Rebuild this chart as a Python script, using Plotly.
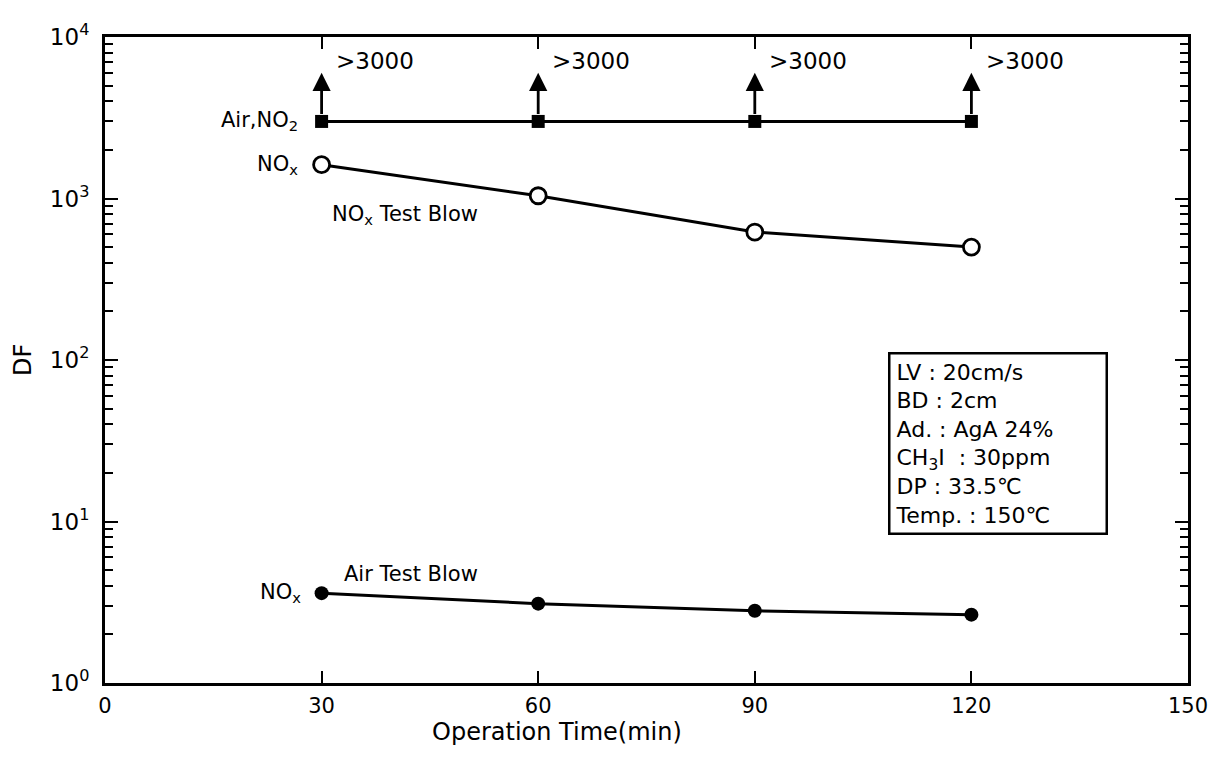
import math
import plotly.graph_objects as go

# ---- data ----
time_min = [30, 60, 90, 120]
df_air_no2 = [3000, 3000, 3000, 3000]          # lower bound (>3000)
df_nox_test_blow = [1620, 1040, 620, 500]
df_air_test_blow = [3.6, 3.1, 2.8, 2.65]
arrow_tip_df = [6000, 6000, 6000, 6000]
bound_labels = [">3000", ">3000", ">3000", ">3000"]

x_ticks = [0, 30, 60, 90, 120, 150]
y_ticks = [1, 10, 100, 1000, 10000]
y_tick_text = ["10<sup>0</sup>", "10<sup>1</sup>", "10<sup>2</sup>", "10<sup>3</sup>", "10<sup>4</sup>"]
y_minor = [m * d for d in [1, 10, 100, 1000] for m in range(2, 10)]

cond_lines = ["LV : 20cm/s", "BD : 2cm", "Ad. : AgA 24%", "CH<sub>3</sub>I  : 30ppm",
              "DP : 33.5℃", "Temp. : 150℃"]

FONT = "DejaVu Sans, Liberation Sans, Arial, sans-serif"
BLACK = "black"

fig = go.Figure()

fig.add_trace(go.Scatter(
    x=time_min, y=df_air_no2, mode="lines+markers",
    line=dict(color=BLACK, width=3),
    marker=dict(symbol="square", size=13, color=BLACK),
    showlegend=False, cliponaxis=False))

fig.add_trace(go.Scatter(
    x=time_min, y=df_nox_test_blow, mode="lines+markers",
    line=dict(color=BLACK, width=3),
    marker=dict(symbol="circle", size=16, color="white", line=dict(color=BLACK, width=2.8)),
    showlegend=False, cliponaxis=False))

fig.add_trace(go.Scatter(
    x=time_min, y=df_air_test_blow, mode="lines+markers",
    line=dict(color=BLACK, width=3),
    marker=dict(symbol="circle", size=14, color=BLACK),
    showlegend=False, cliponaxis=False))

annotations = []
for t, base, tip, lab in zip(time_min, df_air_no2, arrow_tip_df, bound_labels):
    annotations.append(dict(
        x=t, y=math.log10(tip), ax=t, ay=math.log10(base),
        xref="x", yref="y", axref="x", ayref="y",
        text="", showarrow=True, arrowhead=2, arrowsize=1.3, arrowwidth=2.8,
        arrowcolor=BLACK, standoff=0, startstandoff=6))
    annotations.append(dict(
        x=t + 1.7, y=3.85, xref="x", yref="y",
        text=lab, showarrow=False, xanchor="left", yanchor="middle",
        font=dict(family=FONT, size=23, color=BLACK)))

annotations += [
    dict(x=27.0, y=math.log10(df_air_no2[0]), xref="x", yref="y",
         text="Air,NO<sub>2</sub>", showarrow=False, xanchor="right", yanchor="middle",
         font=dict(family=FONT, size=21, color=BLACK)),
    dict(x=27.0, y=math.log10(df_nox_test_blow[0]), xref="x", yref="y",
         text="NO<sub>x</sub>", showarrow=False, xanchor="right", yanchor="middle",
         font=dict(family=FONT, size=21, color=BLACK)),
    dict(x=31.2, y=2.90, xref="x", yref="y",
         text="NO<sub>x</sub> Test Blow", showarrow=False, xanchor="left", yanchor="middle",
         font=dict(family=FONT, size=21, color=BLACK)),
    dict(x=32.8, y=0.678, xref="x", yref="y",
         text="Air Test Blow", showarrow=False, xanchor="left", yanchor="middle",
         font=dict(family=FONT, size=21, color=BLACK)),
    dict(x=27.4, y=math.log10(df_air_test_blow[0]), xref="x", yref="y",
         text="NO<sub>x</sub>", showarrow=False, xanchor="right", yanchor="middle",
         font=dict(family=FONT, size=21, color=BLACK)),
    dict(x=108.4, y=2.052, xref="x", yref="y",
         text="<br>".join(cond_lines), showarrow=False, xanchor="left", yanchor="top",
         align="left", width=205, borderwidth=2.5, bordercolor=BLACK, borderpad=5,
         bgcolor="white", font=dict(family=FONT, size=22, color=BLACK)),
    # axis titles
    dict(x=62.6, y=-0.076, xref="x", yref="paper",
         text="Operation Time(min)", showarrow=False, xanchor="center", yanchor="middle",
         font=dict(family=FONT, size=24, color=BLACK)),
    dict(x=-0.0757, y=0.50, xref="paper", yref="paper", textangle=-90,
         text="DF", showarrow=False, xanchor="center", yanchor="middle",
         font=dict(family=FONT, size=24, color=BLACK)),
]

fig.update_layout(
    width=1213, height=751,
    margin=dict(l=97, r=33, t=20, b=76),
    paper_bgcolor="white", plot_bgcolor="white",
    font=dict(family=FONT, size=21, color=BLACK),
    annotations=annotations,
    showlegend=False,
)

fig.update_xaxes(
    range=[0, 150], tickvals=x_ticks, ticktext=[str(v) for v in x_ticks],
    ticks="inside", ticklen=12, tickwidth=1.5, tickcolor=BLACK,
    showline=True, linewidth=3, linecolor=BLACK, mirror="allticks",
    showgrid=False, zeroline=False, ticklabelstandoff=2,
    tickfont=dict(family=FONT, size=21),
)

fig.update_yaxes(
    type="log", range=[0, 4], tickvals=y_ticks, ticktext=y_tick_text,
    ticks="inside", ticklen=13, tickwidth=1.5, tickcolor=BLACK,
    minor=dict(tickvals=y_minor, ticks="inside", ticklen=8, tickwidth=1.5, tickcolor=BLACK, showgrid=False),
    showline=True, linewidth=3, linecolor=BLACK, mirror="allticks",
    showgrid=False, zeroline=False, ticklabelstandoff=8,
    tickfont=dict(family=FONT, size=23),
)

fig.write_html("out.html")
